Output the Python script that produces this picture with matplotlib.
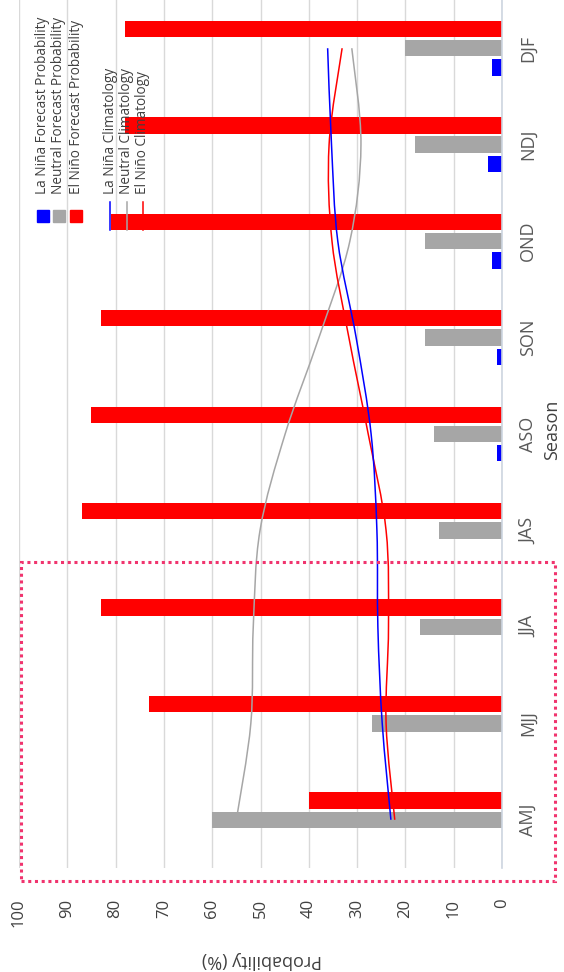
import numpy as np
import matplotlib.pyplot as plt
from matplotlib.path import Path
from matplotlib.patches import PathPatch, Rectangle
from matplotlib.lines import Line2D

plt.rcParams['font.family'] = ['Open Sans', 'DejaVu Sans']

# Seasons (bottom to top in the rotated layout)
seasons = ['AMJ', 'MJJ', 'JJA', 'JAS', 'ASO', 'SON', 'OND', 'NDJ', 'DJF']

# Forecast probabilities (%)
la_nina = [0, 0, 0, 0, 1, 1, 2, 3, 2]
neutral = [60, 27, 17, 13, 14, 16, 16, 18, 20]
el_nino = [40, 73, 83, 87, 85, 83, 81, 78, 78]

# Climatology (%)
clim_nina = [23.0, 24.8, 25.7, 25.9, 27.1, 30.2, 34.0, 35.3, 36.1]
clim_neutral = [55.0, 52.0, 51.5, 50.1, 44.9, 37.9, 31.5, 29.2, 31.1]
clim_nino = [22.2, 24.0, 23.5, 24.0, 27.7, 31.7, 35.2, 35.8, 33.1]

legend_bars = ['La Niña Forecast Probability', 'Neutral Forecast Probability', 'El Niño Forecast Probability']
legend_lines = ['La Niña Climatology', 'Neutral Climatology', 'El Niño Climatology']

BLUE = '#0000FF'
GRAY = '#A6A6A6'
RED = '#FF0000'
TXT = '#404040'

W, H = 564, 972


def fx(px):
    return px / W


def fy(py):
    return 1 - py / H


def smooth_path(xs, ys):
    # Catmull-Rom style bezier, like a spreadsheet "smoothed line"
    pts = np.column_stack([xs, ys]).astype(float)
    n = len(pts)
    verts = [pts[0]]
    codes = [Path.MOVETO]
    for i in range(n - 1):
        p0 = pts[max(i - 1, 0)]
        p1 = pts[i]
        p2 = pts[i + 1]
        p3 = pts[min(i + 2, n - 1)]
        c1 = p1 + (p2 - p0) / 6.0
        c2 = p2 - (p3 - p1) / 6.0
        verts += [c1, c2, p2]
        codes += [Path.CURVE4] * 3
    return Path(verts, codes)


fig = plt.figure(figsize=(5.64, 9.72), dpi=100)
ax = fig.add_axes([fx(19), fy(868), fx(502) - fx(19), fy(0) - fy(868)])

pos = np.arange(len(seasons))
bh = 0.17
off = 0.2
ax.barh(pos + off, el_nino, height=bh, color=RED, zorder=2)
ax.barh(pos, neutral, height=bh, color=GRAY, zorder=2)
ax.barh(pos - off, la_nina, height=bh, color=BLUE, zorder=2)

for vals, col in [(clim_neutral, GRAY), (clim_nino, RED), (clim_nina, BLUE)]:
    ax.add_patch(PathPatch(smooth_path(vals, pos), fill=False, edgecolor=col, lw=1.1, zorder=3))

ax.set_xlim(100, 0)
ax.set_ylim(-0.5, len(seasons) - 0.5)
ax.set_xticks(np.arange(0, 101, 10))
ax.set_yticks(pos)
ax.set_yticklabels(seasons, rotation=90, va='center', fontsize=13, color='#595959')
ax.yaxis.tick_right()
ax.tick_params(axis='y', length=0, pad=12)
ax.tick_params(axis='x', length=0, pad=22, labelsize=12, labelcolor=TXT)
for lab in ax.get_xticklabels():
    lab.set_rotation(90)
    lab.set_va('top')
    lab.set_ha('center')

ax.grid(axis='x', color='#D9D9D9', lw=1, zorder=0)
ax.set_axisbelow(True)
for s in ['top', 'bottom', 'left']:
    ax.spines[s].set_visible(False)
ax.spines['right'].set_color('#CDD5E0')
ax.spines['right'].set_linewidth(1.2)

fig.text(fx(262), fy(960), 'Probability (%)', rotation=180, ha='center', va='center',
         fontsize=13, color=TXT)
fig.text(fx(552), fy(430), 'Season', rotation=90, ha='center', va='center',
         fontsize=13, color=TXT)

# legend, drawn rotated like the rest of the chart
for i, (lab, col) in enumerate(zip(legend_bars, [BLUE, GRAY, RED])):
    x = [43, 59, 76][i]
    fig.add_artist(Rectangle((fx(x - 6), fy(222)), 12 / W, 12 / H, transform=fig.transFigure,
                             color=col, zorder=5))
    fig.text(fx(x), fy(194), lab, rotation=90, ha='center', va='bottom', fontsize=9.8,
             color=TXT, zorder=6)
for i, (lab, col) in enumerate(zip(legend_lines, [BLUE, GRAY, RED])):
    x = [110, 127, 143][i]
    fig.add_artist(Line2D([fx(x), fx(x)], [fy(230), fy(202)], transform=fig.transFigure,
                          color=col, lw=1.1, zorder=5))
    fig.text(fx(x), fy(194), lab, rotation=90, ha='center', va='bottom', fontsize=9.8,
             color=TXT, zorder=6)

# dotted box around the first three seasons
fig.add_artist(Rectangle((fx(21), fy(881)), (555 - 21) / W, (881 - 562) / H,
                         transform=fig.transFigure, fill=False, edgecolor='#F0346E',
                         lw=2.2, ls=(0, (1, 1.2)), zorder=7))

fig.savefig('out.png', dpi=100)
